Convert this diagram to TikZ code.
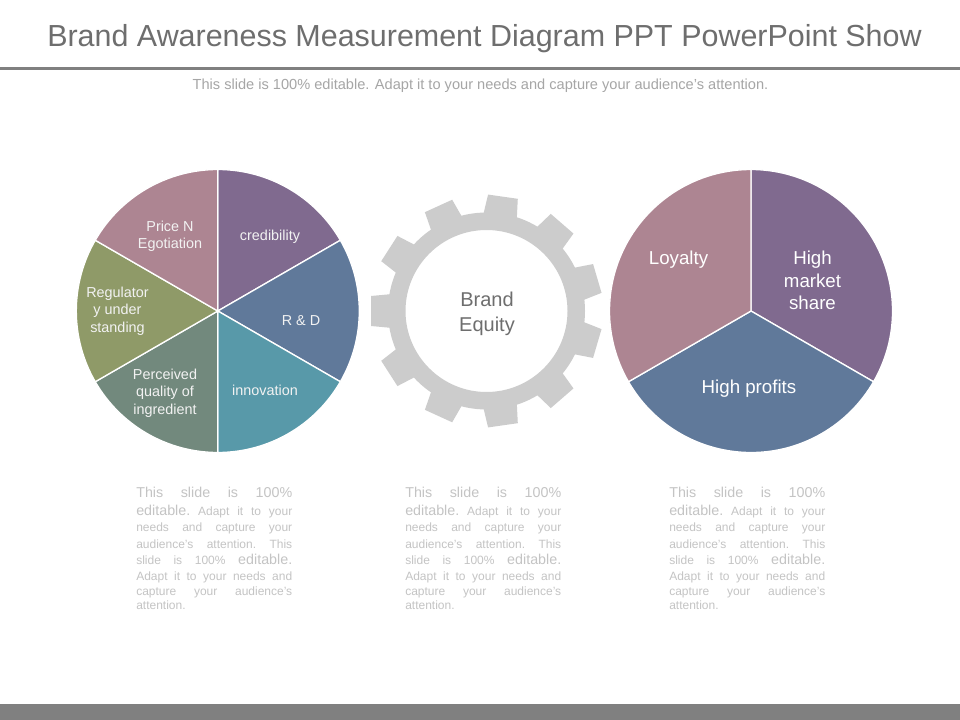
\documentclass[tikz,border=0pt]{standalone}
\usepackage{fontspec}
\setmainfont{Liberation Sans}
\newcommand{\fs}[1]{\fontsize{\dimexpr #1pt*3/4\relax}{\dimexpr #1pt*9/10\relax}\selectfont}
\newcommand{\bline}[2]{\baselineskip=\dimexpr #1pt*3/4\relax\hbox to 117pt{#2}}
\newcommand{\bigt}{\fs{14.3}}
\newcommand{\smt}{\fs{12}}
\newcommand{\bodytext}{\vtop{\hsize=117pt \parindent=0pt \lineskiplimit=-100pt
  \bline{0}{\bigt This\hfill slide\hfill is\hfill 100\%}
  \bline{18}{\bigt editable.\hfill\smt Adapt\hfill it\hfill to\hfill your}
  \bline{16}{\smt needs\hfill and\hfill capture\hfill your}
  \bline{17}{\smt audience's\hfill attention.\hfill This}
  \bline{16.5}{\smt slide\hfill is\hfill 100\%\hfill\bigt editable.}
  \bline{15.5}{\smt Adapt\hfill it\hfill to\hfill your\hfill needs\hfill and}
  \bline{15}{\smt capture\hfill your\hfill audience's}
  \bline{14.5}{\smt attention.\hfill}}}
\newcommand{\pietext}{\fs{14.4}\baselineskip 13.1pt\relax}
\newcommand{\bigtext}{\fs{18.7}\baselineskip 16.9pt\relax}
\newcommand{\geartext}{\fs{20}\baselineskip 18.75pt\relax}
\definecolor{cpurple}{HTML}{806A8F}
\definecolor{cblue}{HTML}{60799A}
\definecolor{cteal}{HTML}{5899A9}
\definecolor{csage}{HTML}{72897D}
\definecolor{colive}{HTML}{8F9A68}
\definecolor{cmauve}{HTML}{AD8592}
\definecolor{cgear}{HTML}{CCCCCC}
\definecolor{ctitle}{HTML}{6E6E6E}
\definecolor{crule}{HTML}{808080}
\definecolor{csub}{HTML}{A6A6A6}
\definecolor{cbody}{HTML}{C4C4C4}
\tikzset{
  wedge/.style={draw=white,line width=1pt,line join=round},
  pielabel/.style={text=white!90!gray,align=center,inner sep=0pt,font=\pietext},
  biglabel/.style={text=white,align=center,inner sep=0pt,font=\bigtext},
  bodybox/.style={text=cbody,inner sep=0pt,anchor=base west}
}
\newcommand{\wedgeat}[4]{\fill[#4,wedge] (#1) -- +(#2:141.5) arc[start angle=#2,end angle=#3,radius=141.5] -- cycle;}
\begin{document}
\begin{tikzpicture}[x=0.75pt,y=0.75pt]
\useasboundingbox (0,0) rectangle (960,-720);
\fill[white] (0,0) rectangle (960,-720);
% header and footer
\node[text=ctitle,inner sep=0pt,font=\fs{30.45}] (title) at (484.5,-38.5) {Brand Awareness Measurement Diagram PPT PowerPoint Show};
\fill[crule] (0,-67.5) rectangle (960,-70.5);
\node[text=csub,inner sep=0pt,font=\fs{14.6}] (subtitle) at (480.5,-85.5) {This slide is 100\% editable. Adapt it to your needs and capture your audience's attention.};
\fill[crule] (0,-704) rectangle (960,-720);
% left pie
\coordinate (L) at (217.8,-311);
\wedgeat{L}{30}{90}{cpurple}
\wedgeat{L}{-30}{30}{cblue}
\wedgeat{L}{-90}{-30}{cteal}
\wedgeat{L}{-150}{-90}{csage}
\wedgeat{L}{150}{210}{colive}
\wedgeat{L}{90}{150}{cmauve}
\node[pielabel] (l1) at (270,-236.5) {credibility};
\node[pielabel] (l2) at (301,-321) {R \& D};
\node[pielabel] (l3) at (265,-390.5) {innovation};
\node[pielabel] (l4) at (165,-393) {Perceived\\quality of\\ingredient};
\node[pielabel] (l5) at (117.5,-311) {Regulator\\y under\\standing};
\node[pielabel] (l6) at (170,-236.5) {Price N\\Egotiation};
% gear
\coordinate (G) at (486.5,-311);
\fill[cgear,even odd rule] (G) circle[radius=98.5] (G) circle[radius=81];
\foreach \a in {0,1,...,10} {
  \fill[cgear,rotate around={180+\a*32.727:(G)},shift={(G)}]
    (94,-17) -- (115.5,-15) -- (115.5,15) -- (94,17) -- cycle;
}
\node[text=ctitle,align=center,inner sep=0pt,font=\geartext] (gearlabel) at (487,-313.5) {Brand\\Equity};
% right pie
\coordinate (R) at (751,-311);
\wedgeat{R}{-30}{90}{cpurple}
\wedgeat{R}{-150}{-30}{cblue}
\wedgeat{R}{90}{210}{cmauve}
\node[biglabel] (r1) at (678.5,-260) {Loyalty};
\node[biglabel] (r2) at (812.5,-280.5) {High\\market\\share};
\node[biglabel] (r3) at (749,-389) {High profits};
% body text
\node[bodybox] (b1) at (136,-497) {\bodytext};
\node[bodybox] (b2) at (405,-497) {\bodytext};
\node[bodybox] (b3) at (669,-497) {\bodytext};
\end{tikzpicture}
\end{document}
